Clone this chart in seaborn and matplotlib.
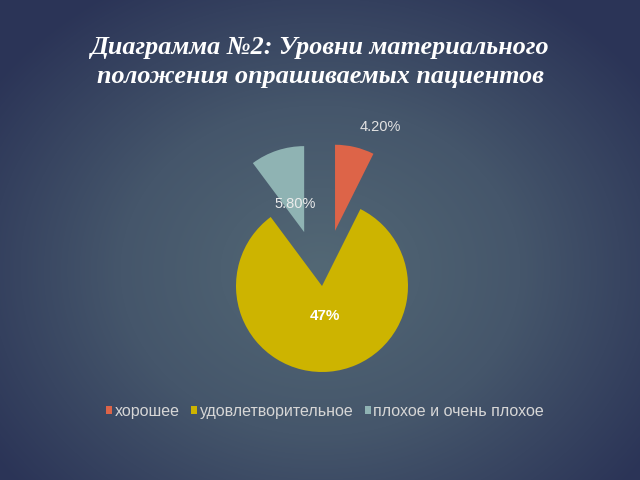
import numpy as np
import matplotlib
matplotlib.use("Agg")
import matplotlib.pyplot as plt
import seaborn as sns
from matplotlib.colors import LinearSegmentedColormap
from matplotlib.patches import Patch

sns.set_theme(style="white")
plt.rcParams['font.family'] = ['Liberation Sans', 'DejaVu Sans']

# ---- data ----
categories = ["хорошее", "удовлетворительное", "плохое и очень плохое"]
values = [4.2, 47.0, 5.8]
value_labels = ["4.20%", "47%", "5.80%"]
title = "Диаграмма №2: Уровни материального\nположения опрашиваемых пациентов"

colors = ["#dd6448", "#cdb400", "#8fb3b3"]
explode = [0.66, 0.0, 0.66]
label_dist = [1.24, 0.35, 0.34]
label_ha = ["left", "center", "center"]
label_weight = ["normal", "bold", "normal"]
label_size = [10.5, 11, 10.5]
label_color = ["#e2e2e2", "#ffffff", "#ececec"]

fig = plt.figure(figsize=(6.4, 4.8), dpi=100)

# background radial gradient
bg = fig.add_axes([0, 0, 1, 1])
yy, xx = np.mgrid[0:480, 0:640]
r = np.sqrt(((xx - 320) / 400.0) ** 2 + ((yy - 270) / 330.0) ** 2)
r = np.clip(r, 0, 1)
cmap = LinearSegmentedColormap.from_list("bg", ["#536875", "#45566b", "#2b3457"])
bg.imshow(r, cmap=cmap, aspect="auto", extent=[0, 1, 0, 1], vmin=0, vmax=1)
bg.set_axis_off()

# title
fig.text(0.5, 0.871, title, ha="center", va="center", color="white",
         family="Liberation Serif", style="italic", weight="bold",
         fontsize=18.8, linespacing=1.3)

# pie axes
cx, cy, half = 322, 286, 150
ax = fig.add_axes([(cx - half) / 640, (480 - cy - half) / 480, 2 * half / 640, 2 * half / 480])
ax.set_facecolor("none")
wedges, _ = ax.pie(values, colors=colors, explode=explode, startangle=90,
                   counterclock=False, radius=1.0,
                   wedgeprops=dict(linewidth=0))
lim = half / 86.0
ax.set_xlim(-lim, lim)
ax.set_ylim(-lim, lim)
ax.set_aspect("equal")
ax.set_axis_off()

for w, lab, d, ha, fw, fs, c in zip(wedges, value_labels, label_dist, label_ha,
                                    label_weight, label_size, label_color):
    ang = np.deg2rad((w.theta1 + w.theta2) / 2)
    x0, y0 = w.center
    ax.text(x0 + d * np.cos(ang), y0 + d * np.sin(ang), lab, ha=ha, va="center",
            color=c, fontsize=fs, weight=fw)

# legend
handles = [Patch(facecolor=c, edgecolor="none") for c in colors]
leg = fig.legend(handles, categories, loc="center", bbox_to_anchor=(0.508, 0.143),
                 ncol=3, frameon=False, fontsize=11.5, handlelength=0.4,
                 handleheight=0.4, handletextpad=0.15, columnspacing=0.7,
                 labelcolor="#d6d6d6")

fig.savefig("out.png", dpi=100)
